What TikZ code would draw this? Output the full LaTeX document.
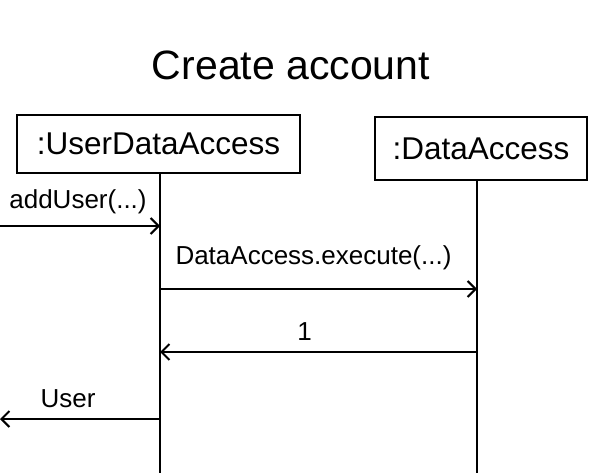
\documentclass[tikz,border=0pt]{standalone}
\usepackage{fontspec}
\setmainfont{Liberation Sans}
\usetikzlibrary{arrows.meta}

\tikzset{
  obj/.style={draw, line width=2pt, inner sep=0pt, font=\fontsize{31.5}{36}\selectfont},
  msg/.style={anchor=base, inner sep=0pt, font=\fontsize{26}{30}\selectfont}
}

\begin{document}
\begin{tikzpicture}[x=1pt, y=-1pt, line width=2pt, >={Straight Barb[length=8pt,width=16pt]}]
  \useasboundingbox (0,0) rectangle (613,473);
  \node (t) at (291,65) {\fontsize{41}{48}\selectfont Create account};
  \node [obj, minimum width=283pt, minimum height=58pt] (u) at (158.5,144) {:UserDataAccess};
  \node [obj, minimum width=212pt, minimum height=63pt] (d) at (481,148.5) {:DataAccess};

  % lifelines
  \coordinate (ue) at (160,473);
  \coordinate (de) at (477,473);
  \draw (ue |- u.south) -- (ue);
  \draw (de |- d.south) -- (de);

  % message ends
  \coordinate (s1) at (0,226);
  \coordinate (u1) at (160,226);
  \coordinate (u2) at (160,289);
  \coordinate (d2) at (477,289);
  \coordinate (d3) at (477,352);
  \coordinate (u3) at (160,352);
  \coordinate (u4) at (160,419);
  \coordinate (s4) at (0,419);

  \draw [->] (s1) to node [msg, yshift=18pt, xshift=-2pt] {addUser(...)} (u1);
  \draw [->] (u2) to node [msg, yshift=24pt, xshift=-5pt] {DataAccess.execute(...)} (d2);
  \draw [->] (d3) to node [msg, yshift=12pt, xshift=-14pt] {1} (u3);
  \draw [->] (u4) to node [msg, yshift=12pt, xshift=-12pt] {User} (s4);
\end{tikzpicture}
\end{document}
